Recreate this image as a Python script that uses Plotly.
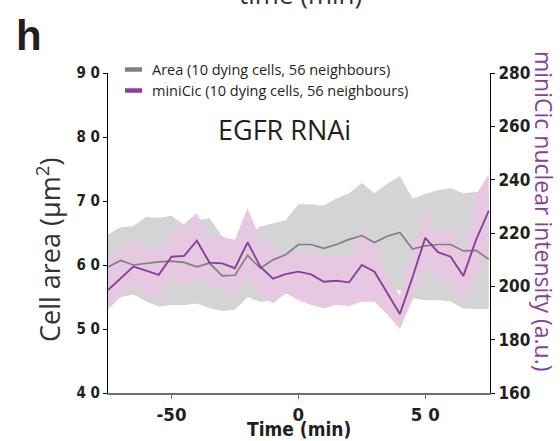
import plotly.graph_objects as go

time_min = [-75, -70, -65, -60, -55, -50, -45, -40, -35, -30, -25, -20, -15, -10, -5,
            0, 5, 10, 15, 20, 25, 30, 35, 40, 45, 50, 55, 60, 65, 70, 75]

area_mean = [59.7, 60.7, 60.0, 60.3, 60.5, 60.6, 60.4, 59.7, 60.3, 58.3, 58.4, 61.5, 59.5, 60.8, 61.6,
             63.2, 63.2, 62.6, 63.2, 64.0, 64.6, 63.5, 64.5, 65.1, 62.5, 63.0, 63.2, 63.2, 62.2, 62.3, 60.9]
area_upper = [64.8, 65.9, 66.1, 67.5, 67.4, 67.7, 66.3, 67.0, 67.3, 64.5, 63.5, 64.5, 66.0, 66.5, 67.0,
              69.5, 69.5, 69.3, 70.4, 71.2, 72.8, 71.2, 72.7, 73.9, 70.4, 71.1, 71.7, 72.0, 71.2, 71.4, 71.4]
area_lower = [54.0, 55.0, 55.4, 54.3, 53.5, 53.75, 53.75, 54.0, 53.3, 52.8, 53.0, 55.0, 54.2, 54.5, 55.5,
              55.5, 55.3, 55.3, 55.3, 55.3, 55.3, 55.5, 56.3, 56.0, 54.8, 54.5, 54.5, 54.3, 53.2, 53.1, 53.1]

mic_mean = [198.6, 203.1, 207.4, 205.9, 204.3, 211.1, 211.4, 217.1, 208.9, 208.6, 206.8, 216.5, 207.4, 202.9, 204.6,
            205.5, 204.5, 201.7, 202.1, 201.5, 208.0, 205.5, 197.5, 189.6, 203.5, 218.2, 212.8, 211.1, 203.9, 217.4, 228.3]
mic_upper = [210.0, 213.6, 217.4, 214.9, 213.6, 219.3, 223.4, 227.4, 218.4, 218.4, 217.6, 229.3, 218.0, 214.9, 211.8,
             213.0, 211.8, 211.8, 211.1, 210.8, 221.8, 216.1, 204.0, 196.5, 213.0, 229.0, 221.1, 221.1, 214.0, 234.3, 242.0]
mic_lower = [191.4, 196.1, 200.5, 197.4, 195.5, 203.0, 199.9, 203.6, 199.9, 199.3, 196.8, 203.4, 197.4, 193.6, 197.4,
             194.9, 193.0, 191.8, 193.0, 192.6, 194.2, 194.2, 189.5, 183.9, 195.0, 207.4, 203.0, 201.1, 193.6, 203.6, 213.6]

left_ticks = [40, 50, 60, 70, 80, 90]
left_labels = ["4 0", "5 0", "6 0", "7 0", "8 0", "9 0"]
right_ticks = [160, 180, 200, 220, 240, 260, 280]
right_labels = ["160", "180", "200", "220", "240", "260", "280"]
x_ticks = [-50, 0, 50]
x_labels = ["-50", "0", "5 0"]

GRAY_LINE = "#808080"
GRAY_BAND = "#d4d4d4"
PURPLE = "#8a3f9e"
PINK_BAND = "#e6c9e0"
TXT = "#231f20"
NARROW = "Liberation Sans Narrow, Arial Narrow, DejaVu Sans Condensed, Liberation Sans, Arial"
HUMAN = "Open Sans, Noto Sans, sans-serif"

fig = go.Figure()
fig.add_trace(go.Scatter(x=time_min + time_min[::-1], y=area_upper + area_lower[::-1],
                         fill="toself", fillcolor=GRAY_BAND, line=dict(width=0),
                         mode="lines", hoverinfo="skip", showlegend=False, yaxis="y"))
fig.add_trace(go.Scatter(x=time_min + time_min[::-1], y=mic_upper + mic_lower[::-1],
                         fill="toself", fillcolor=PINK_BAND, line=dict(width=0),
                         mode="lines", hoverinfo="skip", showlegend=False, yaxis="y2"))
fig.add_trace(go.Scatter(x=time_min, y=area_mean, mode="lines",
                         line=dict(color=GRAY_LINE, width=1.7), showlegend=False, yaxis="y3"))
fig.add_trace(go.Scatter(x=time_min, y=mic_mean, mode="lines",
                         line=dict(color=PURPLE, width=1.9), showlegend=False, yaxis="y4"))

L, R, T, B = 108, 70, 73, 48
W, H = 560, 441
pw, ph = W - L - R, H - T - B

def px(x):
    return (x - L) / pw

def py(y):
    return (H - B - y) / ph

fig.update_layout(
    width=W, height=H,
    margin=dict(l=L, r=R, t=T, b=B),
    paper_bgcolor="white", plot_bgcolor="white",
    showlegend=False,
    xaxis=dict(range=[-75, 75.5], tickvals=x_ticks, ticktext=x_labels,
               showgrid=False, zeroline=False, showline=True, linecolor="#6d6d6d", linewidth=2,
               ticks="outside", ticklen=4, tickcolor="#6d6d6d", tickwidth=1,
               tickfont=dict(family=NARROW, size=18.5, color=TXT, weight="bold")),
    yaxis=dict(range=[40, 90], tickvals=left_ticks, ticktext=left_labels,
               showgrid=False, zeroline=False, showline=True, linecolor="black", linewidth=1,
               ticks="outside", ticklen=4, tickcolor="black",
               tickfont=dict(family=NARROW, size=15, color=TXT, weight="bold")),
    yaxis2=dict(range=[160, 280], overlaying="y", side="right", tickvals=right_ticks, ticktext=right_labels,
                showgrid=False, zeroline=False, showline=True, linecolor="black", linewidth=1,
                ticks="outside", ticklen=4, tickcolor="black",
                tickfont=dict(family=NARROW, size=17, color=TXT, weight="bold")),
    yaxis3=dict(range=[40, 90], overlaying="y", visible=False),
    yaxis4=dict(range=[160, 280], overlaying="y", visible=False),
)

annotations = [
    dict(x=px(300), y=py(14), xref="paper", yref="paper", text="time (min)", showarrow=False,
         font=dict(family=HUMAN, size=26, color="#333333"), xanchor="center", yanchor="bottom"),
    dict(x=px(14), y=py(10), xref="paper", yref="paper", text="h", showarrow=False,
         font=dict(family="Liberation Sans, Arial", size=42, color=TXT, weight="bold"),
         xanchor="left", yanchor="top"),
    dict(x=px(284), y=py(129), xref="paper", yref="paper", text="EGFR RNAi", showarrow=False,
         font=dict(family=HUMAN, size=27, color=TXT), xanchor="center", yanchor="middle"),
    dict(x=px(150), y=py(69), xref="paper", yref="paper", text="Area (10 dying cells, 56 neighbours)",
         showarrow=False, font=dict(family=HUMAN, size=14.5, color=TXT), xanchor="left", yanchor="middle"),
    dict(x=px(150), y=py(90), xref="paper", yref="paper", text="miniCic (10 dying cells, 56 neighbours)",
         showarrow=False, font=dict(family=HUMAN, size=14.5, color=TXT), xanchor="left", yanchor="middle"),
    dict(x=px(299), y=py(429), xref="paper", yref="paper", text="Time (min)", showarrow=False,
         font=dict(family=NARROW, size=19, color=TXT, weight="bold"), xanchor="center", yanchor="middle"),
    dict(x=px(48), y=py(250), xref="paper", yref="paper", text="Cell area (μm<sup>2</sup>)",
         showarrow=False, textangle=-90, font=dict(family=HUMAN, size=27, color="#333333"),
         xanchor="center", yanchor="middle"),
    dict(x=px(544), y=py(211), xref="paper", yref="paper", text="miniCic nuclear intensity (a.u.)",
         showarrow=False, textangle=90, font=dict(family=HUMAN, size=23, color=PURPLE),
         xanchor="center", yanchor="middle"),
]
fig.update_layout(annotations=annotations)

shapes = [
    dict(type="line", xref="paper", yref="paper", x0=px(125), x1=px(142), y0=py(69.5), y1=py(69.5),
         line=dict(color=GRAY_LINE, width=4.5)),
    dict(type="line", xref="paper", yref="paper", x0=px(125), x1=px(142), y0=py(90.5), y1=py(90.5),
         line=dict(color=PURPLE, width=4.5)),
]
fig.update_layout(shapes=shapes)

fig.write_html("out.html")
